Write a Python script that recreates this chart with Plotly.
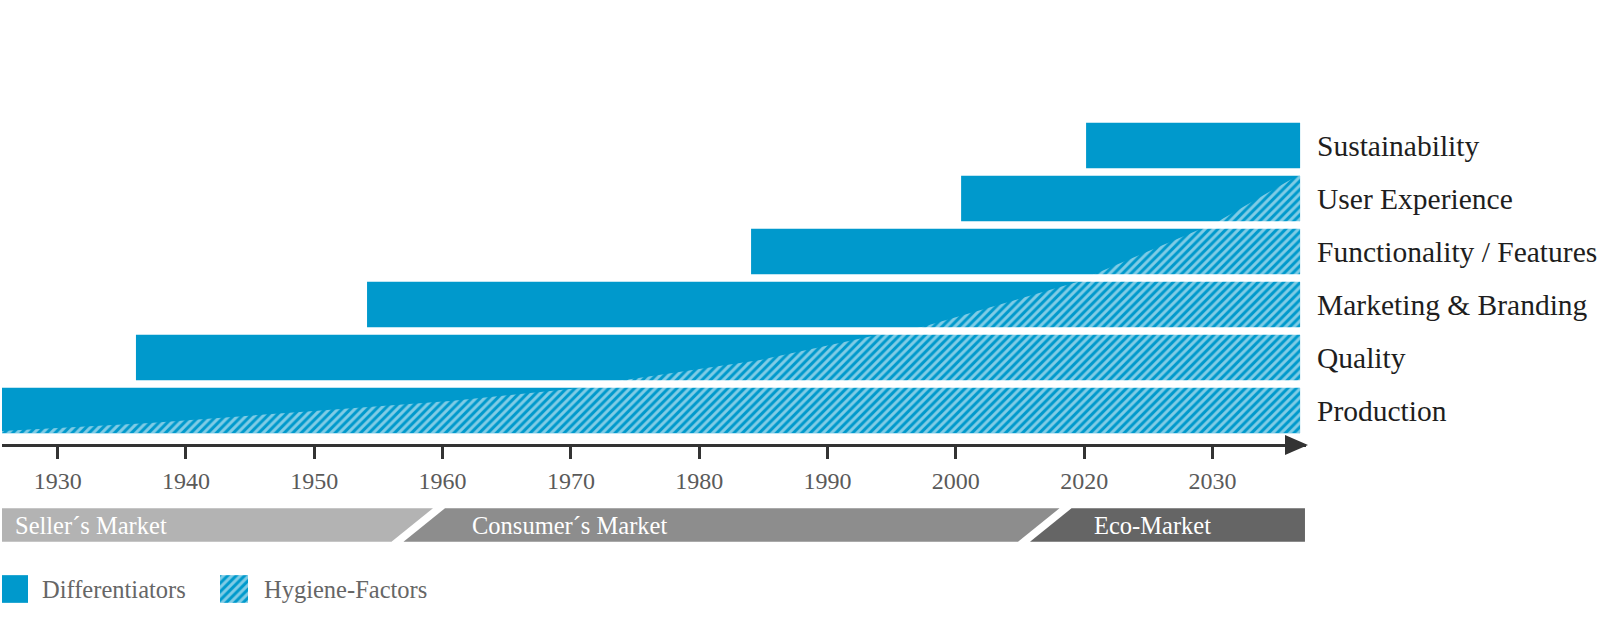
import plotly.graph_objects as go

# ---------------- data ----------------
# x positions are in evenly spaced "tick slots" of the timeline axis (slot 0 = first tick)
tick_labels = ["1930", "1940", "1950", "1960", "1970", "1980", "1990", "2000", "2020", "2030"]
tick_pos = list(range(len(tick_labels)))

categories = ["Production", "Quality", "Marketing & Branding",
              "Functionality / Features", "User Experience", "Sustainability"]
bar_start = [-0.434, 0.610, 2.411, 5.404, 7.041, 8.015]
bar_end = [9.683, 9.683, 9.683, 9.683, 9.683, 9.683]

# upper boundary of the hygiene-factor (hatched) area, y in category units
hyg_x = [-0.434, 0.719, 1.889, 3.058, 4.072, 4.421, 5.474, 6.386, 6.737, 7.945, 8.101, 8.943, 9.036, 9.659]
hyg_y = [-0.387, -0.236, -0.028, 0.179, 0.425, 0.575, 0.953, 1.425, 1.575, 2.425, 2.594, 3.462, 3.557, 4.425]

markets = ["Seller´s Market", "Consumer´s Market", "Eco-Market"]
market_edges = [-0.434, 2.810, 7.693, 9.721]
market_label_x = [-0.346, 3.214, 8.059]
market_colors = ["#b3b3b3", "#8d8d8d", "#656565"]

legend_labels = ["Differentiators", "Hygiene-Factors"]

# ---------------- style ----------------
W, H = 1600, 624
BLUE = "#0099cc"
FONT = "Liberation Serif"
BAR_W = 0.86

fig = go.Figure()

# differentiator bars
fig.add_trace(go.Bar(
    orientation="h",
    y=list(range(len(categories))),
    x=[e - s for s, e in zip(bar_start, bar_end)],
    base=bar_start,
    width=BAR_W,
    marker=dict(color=BLUE, line=dict(width=0)),
    hoverinfo="skip",
))

# hatched hygiene area (white stripes over the bars)
bottom = -BAR_W / 2
top_end = hyg_y[-1]
poly_x = hyg_x + [bar_end[0], bar_end[0], hyg_x[0]]
poly_y = hyg_y + [top_end, bottom, bottom]
fig.add_trace(go.Scatter(
    x=poly_x, y=poly_y,
    mode="lines", fill="toself",
    line=dict(width=0, color="rgba(0,0,0,0)"),
    fillcolor="rgba(0,0,0,0)",
    fillpattern=dict(shape="/", fgcolor="white", bgcolor="rgba(0,0,0,0)", size=6, solidity=0.5),
    hoverinfo="skip",
))

# legend swatches (in a small pixel-unit subplot)
fig.add_trace(go.Bar(
    orientation="h",
    y=[589, 589], x=[26, 28], base=[2, 220], width=27.7,
    marker=dict(color=BLUE, line=dict(width=0),
                pattern=dict(shape=["", "/"], fgcolor="white", bgcolor=BLUE, size=6, solidity=0.5)),
    xaxis="x2", yaxis="y2", hoverinfo="skip",
))

# axis geometry
x_dom = [2 / W, 1306 / W]
y_top_px, y_bot_px = 100, 443.5
px_per_unit = 53.0
y_center0_px = 410.5
y_range = [(y_center0_px - y_bot_px) / px_per_unit, (y_center0_px - y_top_px) / px_per_unit]

shapes = []
# market bands
band_top, band_bot = (H - 508.3) / H, (H - 541.7) / H
slant = 41.5 / 128.3
gap = 12 / 128.3
n = len(markets)
for i in range(n):
    if i == 0:
        lb = lt = market_edges[0]
    else:
        lb = market_edges[i] - slant / 2 + gap / 2
        lt = market_edges[i] + slant / 2 + gap / 2
    if i == n - 1:
        rb = rt = market_edges[-1]
    else:
        rb = market_edges[i + 1] - slant / 2 - gap / 2
        rt = market_edges[i + 1] + slant / 2 - gap / 2
    shapes.append(dict(type="path", xref="x", yref="paper",
                       path=f"M{lb},{band_bot} L{lt},{band_top} L{rt},{band_top} L{rb},{band_bot} Z",
                       fillcolor=market_colors[i], line=dict(width=0), layer="above"))

# arrow head at end of time axis
shapes.append(dict(type="path", xref="paper", yref="paper",
                   xsizemode="pixel", ysizemode="pixel",
                   xanchor=1308 / W, yanchor=(H - 445) / H,
                   path="M0,0 L-23,10 L-23,-10 Z",
                   fillcolor="#333333", line=dict(width=0), layer="above"))

annotations = []
for name, lx in zip(markets, market_label_x):
    annotations.append(dict(x=lx, y=(H - 525) / H, xref="x", yref="paper", text=name,
                            showarrow=False, xanchor="left", yanchor="middle",
                            font=dict(family=FONT, size=24.5, color="white")))
for name, px in zip(legend_labels, [40, 262]):
    annotations.append(dict(x=px / W, y=(H - 589) / H, xref="paper", yref="paper", text=name,
                            showarrow=False, xanchor="left", yanchor="middle",
                            font=dict(family=FONT, size=24.5, color="#666666")))

fig.update_layout(
    width=W, height=H,
    margin=dict(l=0, r=0, t=0, b=0),
    paper_bgcolor="white", plot_bgcolor="white",
    showlegend=False, barmode="overlay",
    xaxis=dict(domain=x_dom, range=[-0.434, 9.729], tickmode="array",
               tickvals=tick_pos, ticktext=tick_labels,
               showline=True, linecolor="#333333", linewidth=3,
               ticks="outside", ticklen=12, tickwidth=3, tickcolor="#333333",
               ticklabelstandoff=2,
               tickfont=dict(family=FONT, size=24, color="#5a5a5a"),
               showgrid=False, zeroline=False, fixedrange=True, automargin=False),
    yaxis=dict(domain=[(H - y_bot_px) / H, (H - y_top_px) / H], range=y_range,
               side="right", tickmode="array", tickvals=list(range(len(categories))),
               ticktext=categories, ticks="", showline=False, ticklabelstandoff=10,
               tickfont=dict(family=FONT, size=29.5, color="#1e1e1e"),
               showgrid=False, zeroline=False, fixedrange=True, automargin=False),
    xaxis2=dict(domain=[0, 0.3], range=[0, 480], anchor="y2", visible=False, fixedrange=True),
    yaxis2=dict(domain=[(H - 608) / H, (H - 570) / H], range=[608, 570], anchor="x2",
                visible=False, fixedrange=True),
    shapes=shapes, annotations=annotations,
)

fig.write_html("out.html", config={"displayModeBar": False},
               post_script="document.body.style.margin='0';document.body.style.overflow='hidden';")
